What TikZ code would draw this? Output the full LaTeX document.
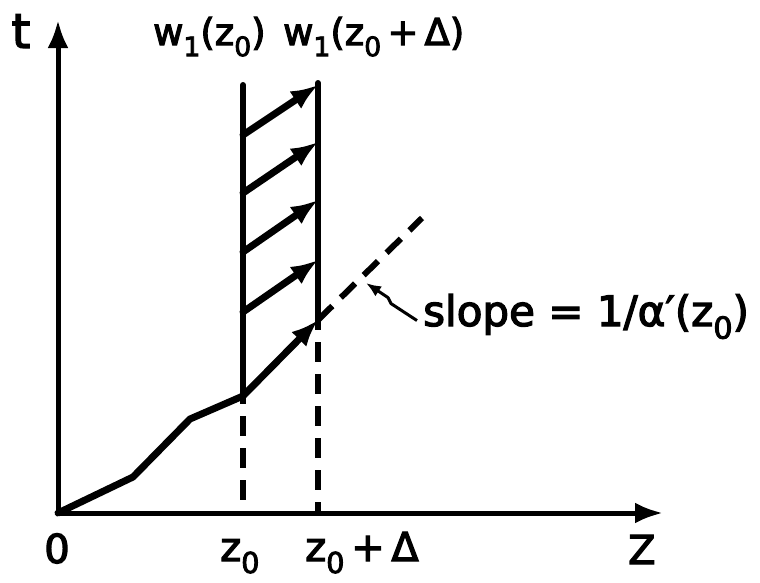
\documentclass[tikz,border=0pt]{standalone}
\usepackage{fontspec}
\setmainfont{DejaVu Sans}[FakeBold=3]
\usetikzlibrary{arrows.meta}
\newcommand\lowix[1]{\raisebox{-0.3em}{\scalebox{0.72}{#1}}}
\tikzset{
  >={Latex[length=27pt,width=21pt]},
  axisline/.style={-{Latex[length=28pt,width=21pt]}, line width=5pt},
  front/.style={line width=7pt, line join=round, line cap=round},
  wall/.style={line width=6pt, line cap=round},
  dashline/.style={line width=6pt, dash pattern=on 20pt off 12pt},
  pointer/.style={-{Latex[length=15pt,width=12pt]}, line width=3pt, line join=round},
  lbl/.style={inner sep=0pt, font=\fontsize{40}{44}\selectfont},
  toplbl/.style={inner sep=0pt, font=\fontsize{37}{40}\selectfont},
  slopelbl/.style={inner sep=0pt, font=\fontsize{42}{48}\selectfont}
}
\begin{document}
\begin{tikzpicture}[x=1pt, y=-1pt]
  \useasboundingbox (0,0) rectangle (760,582);
  % axes
  \coordinate (O) at (58,513);
  \coordinate (ttop) at (58,20);
  \coordinate (zend) at (663,513);
  \draw[axisline] (O) -- (ttop);
  \draw[axisline] (O) -- (zend);
  % front and the two verticals
  \coordinate (A) at (243,396);
  \coordinate (B) at (318,320);
  \draw[front] (O) -- (133,477) -- (190,419) -- (A);
  \draw[wall] (A) -- (243,85);
  \draw[wall] (B) -- (318,83);
  \draw[front, ->] (A) -- (B);
  \foreach \ya/\yb in {312/260,252/200,193/142,135/85}
    \draw[front, ->] (243,\ya) -- (318,\yb);
  % dashed lines
  \draw[dashline] ([yshift=12pt]A) -- (A |- O);
  \draw[dashline] ([yshift=10pt]B) -- (B |- O);
  \draw[dashline] (B) -- (422,218);
  % labels
  \node[lbl, font=\fontsize{48}{52}\selectfont, anchor=base] (tlab) at (21,48) {t};
  \node[toplbl, anchor=base west] (wa) at (153,45) {w\lowix{1}(z\lowix{0})};
  \node[toplbl, anchor=base west] (wb) at (283,45) {w\lowix{1}(z\lowix{0}\,+\,Δ)};
  \node[lbl, anchor=base] (olab) at (57,563) {0};
  \node[lbl, anchor=base west] (za) at (220,561) {z\lowix{0}};
  \node[lbl, anchor=base west] (zb) at (305,561) {z\lowix{0}\,+\,Δ};
  \node[lbl, anchor=base west] (zlab) at (628,564) {Z};
  \node[slopelbl, anchor=base west] (slope) at (423,326) {slope = 1/α′(z\lowix{0})};
  \coordinate (hit) at (366,283);
  \draw[pointer] ([shift={(-6,4)}]slope.west) -- ++(-26,-17) -- ++(-3,-6) -- (hit);
\end{tikzpicture}
\end{document}
